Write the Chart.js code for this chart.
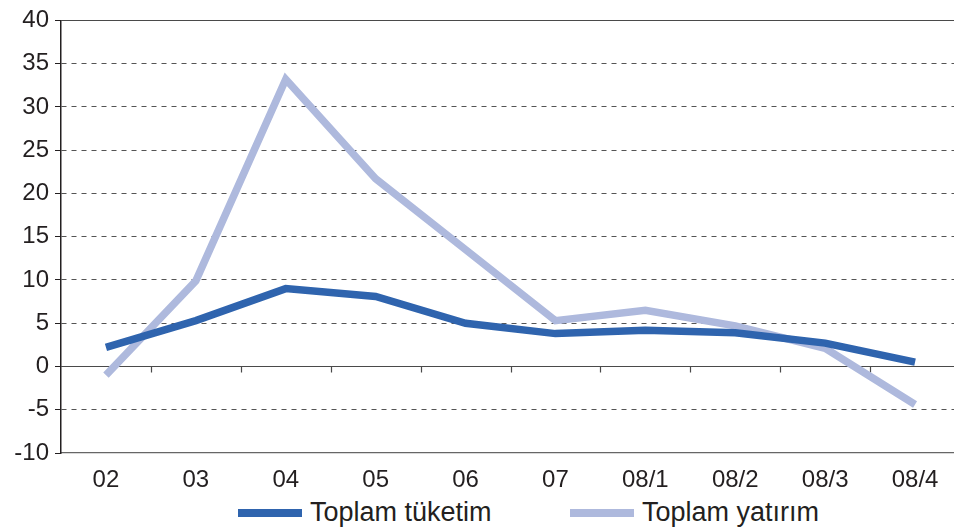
<!DOCTYPE html>
<html>
<head>
<meta charset="utf-8">
<script src="https://cdn.jsdelivr.net/npm/chart.js@4.4.0/dist/chart.umd.min.js"></script>
<style>
  html, body { margin: 0; padding: 0; background: #fff; overflow: hidden; }
  #clip { width: 954px; height: 495px; overflow: hidden; }
  #wrap { width: 960px; height: 495px; position: relative; }
  #legend {
    width: 954px; height: 35px; position: relative;
    font-family: 'Liberation Sans', Arial, sans-serif; font-size: 27px; color: #231f20;
  }
  .item { position: absolute; top: 0; height: 35px; display: flex; align-items: center; }
  .swatch { width: 64px; height: 8px; margin-right: 8px; }
</style>
</head>
<body>
<div id="clip"><div id="wrap"><canvas id="chart"></canvas></div></div>
<div id="legend"></div>
<script>
// data
let labels = ['02', '03', '04', '05', '06', '07', '08/1', '08/2', '08/3', '08/4'];
let tuketim = [2.2, 5.3, 9.0, 8.1, 5.0, 3.8, 4.2, 3.9, 2.7, 0.5];
let yatirim = [-1.0, 9.9, 33.2, 21.7, 13.5, 5.3, 6.5, 4.7, 2.1, -4.4];
let yTicks = [-10, -5, 0, 5, 10, 15, 20, 25, 30, 35, 40];
let seriesNames = ['Toplam tüketim', 'Toplam yatırım'];
let seriesColors = ['#2f64ae', '#aeb9dd'];

let textColor = '#231f20';
let fontFamily = 'Liberation Sans, Arial, sans-serif';

// solid zero line with small ticks between the categories, plus top border
let zeroLine = {
    id: 'zeroLine',
    beforeDatasetsDraw(chart) {
        let ctx = chart.ctx;
        let x = chart.scales.x;
        let y = chart.scales.y;
        let y0 = Math.round(y.getPixelForValue(0)) + 0.5;
        ctx.save();
        ctx.strokeStyle = '#4a4a4a';
        ctx.lineWidth = 1.2;
        ctx.beginPath();
        ctx.moveTo(x.left, y0);
        ctx.lineTo(x.right, y0);
        for (let i = 1; i < labels.length; i++) {
            let px = Math.round(x.getPixelForValue(i - 0.5)) + 0.5;
            ctx.moveTo(px, y0);
            ctx.lineTo(px, y0 + 6);
        }
        let yt = Math.round(y.getPixelForValue(40)) + 0.5;
        ctx.moveTo(x.left, yt);
        ctx.lineTo(x.right, yt);
        ctx.stroke();
        ctx.restore();
    }
};

let ctx = document.getElementById('chart').getContext('2d');
let chart = new Chart(ctx, {
    type: 'line',
    data: {
        labels: labels,
        datasets: [{
            label: seriesNames[0],
            data: tuketim,
            borderColor: seriesColors[0],
            backgroundColor: seriesColors[0],
            borderWidth: 7.5,
            pointRadius: 0,
            tension: 0
        },
        {
            label: seriesNames[1],
            data: yatirim,
            borderColor: seriesColors[1],
            backgroundColor: seriesColors[1],
            borderWidth: 7.5,
            pointRadius: 0,
            tension: 0
        }]
    },
    options: {
        responsive: true,
        maintainAspectRatio: false,
        animation: false,
        layout: { padding: { top: 9, right: 0, left: 1, bottom: 4 } },
        plugins: {
            tooltip: { enabled: false },
            legend: { display: false }
        },
        scales: {
            x: {
                offset: true,
                grid: { display: false },
                border: { display: true, color: '#666', width: 1.2 },
                ticks: {
                    color: textColor,
                    font: { family: fontFamily, size: 24 },
                    padding: 5,
                    maxRotation: 0
                },
                afterFit(scale) { scale.height = 38; }
            },
            y: {
                min: -10,
                max: 40,
                afterBuildTicks(scale) {
                    scale.ticks = yTicks.map(function (v) { return { value: v }; });
                },
                grid: {
                    color: function (c) {
                        let v = c.tick.value;
                        return (v === 0 || v === 40 || v === -10) ? 'rgba(0,0,0,0)' : '#555';
                    },
                    lineWidth: 1,
                    tickLength: 6,
                    tickColor: '#231f20'
                },
                border: { display: true, color: '#231f20', width: 1.5, dash: [5, 5] },
                ticks: {
                    color: textColor,
                    font: { family: fontFamily, size: 24 },
                    padding: 6
                },
                afterFit(scale) { scale.width = 60; }
            }
        }
    },
    plugins: [zeroLine]
});

// legend under the chart
let legend = document.getElementById('legend');
let legendLeft = [238, 570];
for (let i = 0; i < seriesNames.length; i++) {
    let item = document.createElement('div');
    item.className = 'item';
    item.style.left = legendLeft[i] + 'px';
    let sw = document.createElement('div');
    sw.className = 'swatch';
    sw.style.background = seriesColors[i];
    let txt = document.createElement('span');
    txt.textContent = seriesNames[i];
    item.appendChild(sw);
    item.appendChild(txt);
    legend.appendChild(item);
}
</script>
</body>
</html>
